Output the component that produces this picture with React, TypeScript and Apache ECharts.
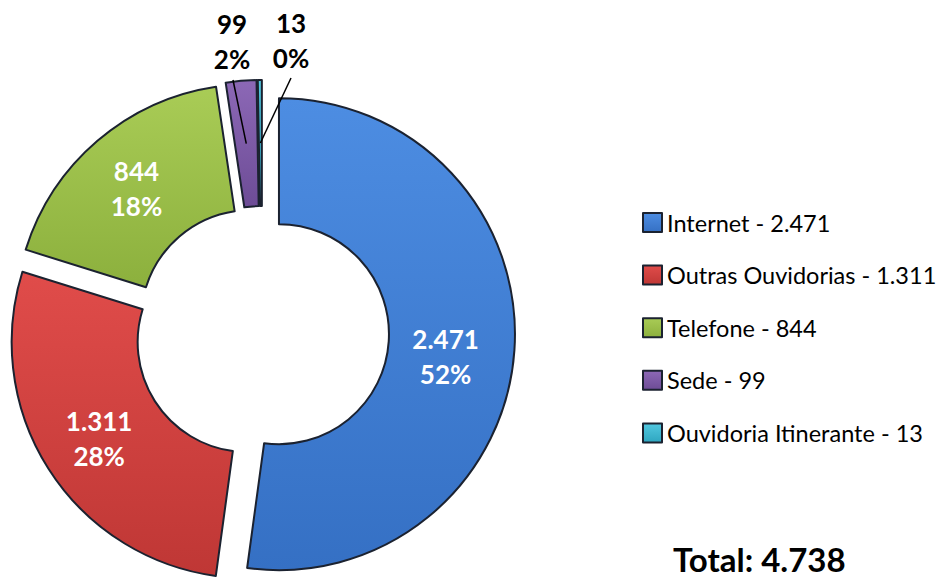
import React, { useEffect, useRef } from "react";
import * as echarts from "echarts";

const categories = ["Internet", "Outras Ouvidorias", "Telefone", "Sede", "Ouvidoria Itinerante"];
const values = [2471, 1311, 844, 99, 13];
const topColors = ["#4d8de2", "#e04c4a", "#a9cc56", "#8c68b6", "#52c8e0"];
const bottomColors = ["#3570c4", "#bf3735", "#8cb03d", "#6d4c96", "#2ea6c0"];

const FONT = "Lato, 'Open Sans', sans-serif";
const CX = 262;
const CY = 333;
const R_IN = 110;
const R_OUT = 236;
const OFFSET = 17;
// outside label anchors for the two smallest slices (text centre, line end)
const outsideLabels: Record<number, { x: number; y: number; ex: number; ey: number }> = {
  3: { x: 232, y: 41, ex: 233, ey: 80 },
  4: { x: 291, y: 40, ex: 291, ey: 78 },
};
const insideShift: Record<number, number[]> = {
  0: [-9, 10],
  1: [0, 2],
  2: [0, 2],
};

const fmt = (n: number) => String(n).replace(/\B(?=(\d{3})+(?!\d))/g, ".");

export default function App() {
  const ref = useRef<HTMLDivElement>(null);
  useEffect(() => {
    if (!ref.current) return;
    const chart = echarts.init(ref.current, null, { renderer: "svg" });
    const total = values.reduce((a, b) => a + b, 0);
    const mids: number[] = [];
    let acc = 0;
    values.forEach((v) => {
      mids.push(((acc + v / 2) / total) * 360);
      acc += v;
    });
    const data = categories.map((name, i) => ({
      name,
      value: values[i],
      selected: true,
      itemStyle: {
        color: new echarts.graphic.LinearGradient(0, 0, 0, 1, [
          { offset: 0, color: topColors[i] },
          { offset: 1, color: bottomColors[i] },
        ]),
      },
      label: i >= 3 ? { show: false } : { position: "inside", color: "#fff" },
      labelLine: { show: false },
    }));

    const outsideGraphics: any[] = [];
    [3, 4].forEach((i) => {
      const o = outsideLabels[i];
      const rad = (mids[i] * Math.PI) / 180;
      const rho = (R_IN + R_OUT) / 2 + OFFSET;
      const sx = CX + rho * Math.sin(rad);
      const sy = CY - rho * Math.cos(rad);
      outsideGraphics.push({
        type: "line",
        shape: { x1: sx, y1: sy, x2: o.ex, y2: o.ey },
        style: { stroke: "#000", lineWidth: 1.5 },
        z: 10,
      });
      outsideGraphics.push({
        type: "text",
        x: o.x,
        y: o.y,
        z: 10,
        style: {
          text: `${fmt(values[i])}\n${Math.round((values[i] / total) * 100)}%`,
          font: `bold 26px ${FONT}`,
          lineHeight: 35,
          fill: "#000",
          align: "center",
          verticalAlign: "middle",
        },
      });
    });

    chart.setOption({
      animation: false,
      textStyle: { fontFamily: FONT },
      legend: {
        orient: "vertical",
        left: 637,
        top: 204.5,
        icon: "rect",
        itemWidth: 19,
        itemHeight: 19,
        itemGap: 26.6,
        selectedMode: false,
        data: categories,
        formatter: (name: string) => `${name} - ${fmt(values[categories.indexOf(name)])}`,
        textStyle: { fontSize: 23.5, lineHeight: 26, color: "#000", fontFamily: FONT },
      },
      graphic: [
        ...outsideGraphics,
        {
          type: "text",
          x: 673,
          y: 559,
          style: {
            text: `Total: ${fmt(total)}`,
            font: `bold 33px ${FONT}`,
            fill: "#000",
            verticalAlign: "middle",
          },
        },
      ],
      series: [
        {
          type: "pie",
          center: [CX, CY],
          radius: [R_IN, R_OUT],
          startAngle: 90,
          clockwise: true,
          selectedMode: "multiple",
          selectedOffset: OFFSET,
          avoidLabelOverlap: false,
          emphasis: { disabled: true },
          itemStyle: { borderColor: "#1b2230", borderWidth: 2 },
          label: {
            show: true,
            fontFamily: FONT,
            fontWeight: "bold",
            fontSize: 26,
            lineHeight: 35,
            align: "center",
            formatter: (p: any) => `${fmt(p.value)}\n${Math.round(p.percent)}%`,
          },
          labelLayout: (p: any) => {
            const s = insideShift[p.dataIndex];
            return s ? { dx: s[0], dy: s[1] } : {};
          },
          data,
        },
      ],
    });
    return () => chart.dispose();
  }, []);
  return (
    <div
      ref={ref}
      style={{ position: "fixed", left: 0, top: 0, width: 939, height: 578, background: "#fff" }}
    />
  );
}
